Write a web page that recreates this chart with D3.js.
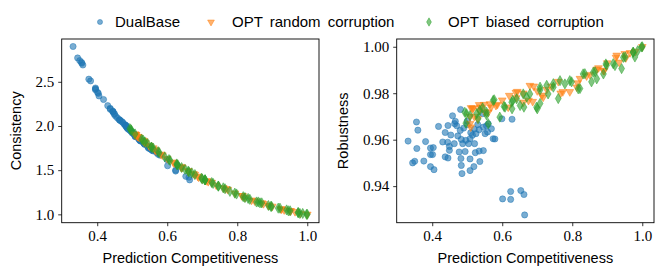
<!DOCTYPE html>
<html>
<head>
<meta charset="utf-8">
<script src="https://cdn.jsdelivr.net/npm/d3@7"></script>
<style>
  body { margin: 0; background: #fff; }
  .tick text { font-family: "Liberation Serif", serif; font-size: 15px; }
  .lab { font-family: "Liberation Sans", sans-serif; font-size: 14.5px; }
  .leg { font-family: "Liberation Sans", sans-serif; font-size: 15px; word-spacing: 3px; }
</style>
</head>
<body>
<div id="chart"></div>
<script>
// DualBase: competitiveness, consistency, robustness
let baseComp = [0.331,0.344,0.350,0.355,0.356,0.359,0.376,0.381,0.395,0.395,0.395,0.401,0.403,0.405,0.418,0.430,0.437,0.437,0.444,0.445,
  0.445,0.449,0.449,0.453,0.458,0.463,0.464,0.466,0.473,0.477,0.481,0.482,0.483,0.483,0.485,0.487,0.494,0.496,0.504,0.508,
  0.508,0.508,0.515,0.519,0.521,0.523,0.525,0.534,0.534,0.536,0.544,0.546,0.546,0.551,0.558,0.569,0.574,0.579,0.599,0.601,
  0.624,0.624,0.628,0.653,0.662,0.664,0.470,0.490,0.500,0.520,0.530,0.480,0.510,0.555,0.500,0.560];
let baseCons = [2.90,2.77,2.74,2.72,2.71,2.69,2.53,2.51,2.43,2.42,2.41,2.38,2.37,2.34,2.30,2.23,2.20,2.19,2.17,2.16,
  2.16,2.14,2.13,2.11,2.09,2.07,2.07,2.06,2.04,2.02,2.01,2.00,2.00,1.99,1.98,1.97,1.95,1.94,1.91,1.90,
  1.89,1.88,1.87,1.85,1.84,1.83,1.83,1.80,1.80,1.79,1.77,1.76,1.75,1.74,1.72,1.70,1.68,1.67,1.62,1.55,
  1.49,1.50,1.56,1.43,1.42,1.39,2.05,1.96,1.93,1.86,1.82,2.01,1.88,1.73,1.92,1.72];
let baseRob = [0.9594,0.9500,0.9507,0.9676,0.9562,0.9641,0.9508,0.9592,0.9564,0.9536,0.9484,0.9536,0.9566,0.9471,0.9657,0.9590,0.9631,0.9526,0.9589,0.9661,
  0.9521,0.9571,0.9554,0.9620,0.9703,0.9583,0.9669,0.9679,0.9616,0.9547,0.9730,0.9519,0.9489,0.9601,0.9454,0.9583,0.9549,0.9597,0.9583,0.9604,
  0.9517,0.9467,0.9619,0.9484,0.9583,0.9544,0.9626,0.9551,0.9643,0.9506,0.9712,0.9553,0.9654,0.9626,0.9633,0.9647,0.9604,0.9603,0.9690,0.9345,
  0.9377,0.9343,0.9688,0.9381,0.9364,0.9276,0.9660,0.9650,0.9665,0.9645,0.9665,0.9640,0.9630,0.9660,0.9680,0.9668];

// OPT random corruption
let randComp = [0.508,0.510,0.508,0.511,0.515,0.517,0.520,0.530,0.534,0.534,0.538,0.548,0.550,0.560,0.565,0.568,0.582,0.586,0.600,0.617,
  0.620,0.639,0.640,0.643,0.660,0.660,0.675,0.679,0.687,0.690,0.700,0.713,0.717,0.727,0.740,0.760,0.767,0.773,0.793,0.813,
  0.815,0.822,0.841,0.850,0.870,0.875,0.889,0.891,0.900,0.925,0.927,0.934,0.950,0.953,0.965,0.980,1.000];
let randCons = [1.90,1.90,1.91,1.90,1.88,1.88,1.87,1.84,1.82,1.83,1.81,1.78,1.77,1.75,1.73,1.72,1.68,1.67,1.63,1.59,
  1.58,1.54,1.53,1.53,1.49,1.49,1.46,1.45,1.43,1.42,1.40,1.38,1.37,1.36,1.33,1.30,1.29,1.28,1.24,1.21,
  1.21,1.19,1.16,1.15,1.13,1.12,1.10,1.10,1.09,1.06,1.06,1.05,1.04,1.04,1.03,1.01,1.00];
let randRob = [0.9669,0.9654,0.9700,0.9737,0.9733,0.9736,0.9700,0.9690,0.9750,0.9726,0.9740,0.9751,0.9720,0.9718,0.9754,0.9740,0.9747,0.9751,0.9770,0.9740,
  0.9790,0.9803,0.9780,0.9807,0.9761,0.9800,0.9769,0.9833,0.9764,0.9830,0.9810,0.9791,0.9783,0.9816,0.9830,0.9850,0.9800,0.9806,0.9806,0.9826,
  0.9844,0.9863,0.9874,0.9880,0.9903,0.9909,0.9898,0.9897,0.9930,0.9954,0.9963,0.9933,0.9970,0.9952,0.9974,0.9980,1.0000];

// OPT biased corruption
let biasComp = [0.493,0.496,0.498,0.508,0.527,0.531,0.536,0.544,0.555,0.555,0.560,0.574,0.577,0.593,0.605,0.608,0.627,0.628,0.630,0.641,
  0.651,0.660,0.662,0.670,0.679,0.698,0.700,0.708,0.708,0.708,0.727,0.731,0.746,0.746,0.760,0.765,0.779,0.793,0.798,0.817,
  0.822,0.831,0.836,0.855,0.860,0.865,0.870,0.889,0.896,0.898,0.917,0.922,0.941,0.946,0.951,0.974,0.974,0.979,0.987,0.998,1.000];
let biasCons = [1.97,1.96,1.95,1.91,1.85,1.84,1.82,1.80,1.76,1.76,1.75,1.71,1.70,1.65,1.62,1.61,1.57,1.56,1.56,1.53,
  1.51,1.49,1.48,1.47,1.45,1.41,1.40,1.39,1.39,1.39,1.36,1.35,1.32,1.32,1.30,1.29,1.26,1.24,1.23,1.20,
  1.19,1.18,1.17,1.14,1.14,1.13,1.13,1.10,1.09,1.09,1.07,1.07,1.05,1.04,1.04,1.02,1.02,1.01,1.01,1.00,1.00];
let biasRob = [0.9718,0.9671,0.9712,0.9704,0.9712,0.9690,0.9726,0.9737,0.9707,0.9718,0.9669,0.9769,0.9772,0.9697,0.9743,0.9740,0.9761,0.9733,0.9769,0.9776,
  0.9747,0.9797,0.9740,0.9783,0.9797,0.9740,0.9733,0.9814,0.9826,0.9756,0.9834,0.9797,0.9826,0.9841,0.9777,0.9854,0.9840,0.9854,0.9849,0.9819,
  0.9820,0.9883,0.9884,0.9849,0.9890,0.9892,0.9862,0.9883,0.9926,0.9920,0.9927,0.9919,0.9906,0.9954,0.9956,0.9976,0.9977,0.9956,0.9983,0.9999,1.0000];

let xTicks = [0.4,0.6,0.8,1.0];
let consTicks = [1.0,1.5,2.0,2.5];
let robTicks = [0.94,0.96,0.98,1.00];

let W = 665, H = 279;
let svg = d3.select("#chart").append("svg").attr("width",W).attr("height",H);

let series = [
  {name:"DualBase", color:"#1f77b4", shape:d3.symbolCircle, size:30, comp:baseComp, cons:baseCons, rob:baseRob},
  {name:"OPT random corruption", color:"#ff7f0e", shape:d3.symbolTriangle, size:26, comp:randComp, cons:randCons, rob:randRob},
  {name:"OPT biased corruption", color:"#2ca02c", shape:d3.symbolDiamond, size:30, comp:biasComp, cons:biasCons, rob:biasRob}
];

function panel(left, right, key, ydom, yticks, yfmt, ylabel, ylabX){
  let top = 39, bottom = 222.7;
  let x = d3.scaleLinear().domain([0.2985,1.0335]).range([left,right]);
  let y = d3.scaleLinear().domain(ydom).range([bottom,top]);
  let g = svg.append("g");
  series.forEach(function(s){
    let sym = d3.symbol().type(s.shape).size(s.size);
    g.selectAll(null).data(s.comp).enter().append("path")
      .attr("d", sym)
      .attr("transform", function(d,i){
        let ty = s.shape === d3.symbolTriangle ? " rotate(180)" : "";
        return "translate(" + x(d) + "," + y(s[key][i]) + ")" + ty;
      })
      .attr("fill", s.color).attr("fill-opacity",0.6)
      .attr("stroke", s.color).attr("stroke-opacity",0.6).attr("stroke-width",0.8);
  });
  g.append("rect").attr("x",left).attr("y",top).attr("width",right-left).attr("height",bottom-top)
    .attr("fill","none").attr("stroke","#000").attr("stroke-width",0.9);
  let xa = svg.append("g").attr("transform","translate(0,"+bottom+")")
    .call(d3.axisBottom(x).tickValues(xTicks).tickFormat(d3.format(".1f")).tickSize(3.5).tickPadding(4));
  let ya = svg.append("g").attr("transform","translate("+left+",0)")
    .call(d3.axisLeft(y).tickValues(yticks).tickFormat(d3.format(yfmt)).tickSize(3.5).tickPadding(4));
  [xa,ya].forEach(function(a){
    a.select(".domain").remove();
    a.selectAll(".tick line").attr("stroke","#000").attr("stroke-width",0.8);
    a.selectAll(".tick text").attr("fill","#000");
  });
  svg.append("text").attr("class","lab").attr("x",(left+right)/2).attr("y",263)
    .attr("text-anchor","middle").text("Prediction Competitiveness");
  svg.append("text").attr("class","lab")
    .attr("transform","translate("+ylabX+","+((top+bottom)/2)+") rotate(-90)")
    .attr("text-anchor","middle").text(ylabel);
}

panel(61.7, 319, "cons", [0.9055,2.9845], consTicks, ".1f", "Consistency", 21);
panel(396.7, 654, "rob", [0.92426,1.00334], robTicks, ".2f", "Robustness", 348);

// legend
let legX = [100, 211, 429];
let legTextX = [115, 232, 448];
series.forEach(function(s,i){
  let sym = d3.symbol().type(s.shape).size(20);
  svg.append("path").attr("d", sym)
    .attr("transform","translate("+legX[i]+",22)" + (s.shape === d3.symbolTriangle ? " rotate(180)" : ""))
    .attr("fill", s.color).attr("fill-opacity",0.6)
    .attr("stroke", s.color).attr("stroke-opacity",0.6).attr("stroke-width",0.8);
  svg.append("text").attr("class","leg").attr("x",legTextX[i]).attr("y",27).text(s.name);
});
</script>
</body>
</html>
